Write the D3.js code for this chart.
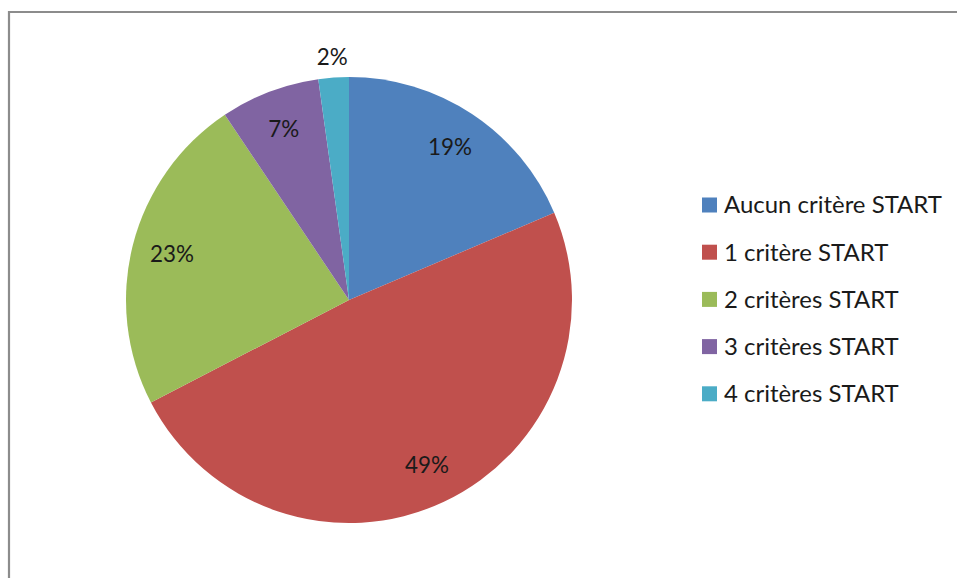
<!DOCTYPE html>
<html><head><meta charset="utf-8">
<script src="https://cdn.jsdelivr.net/npm/d3@7"></script>
<style>html,body{margin:0;padding:0;background:#fff;}svg{display:block;}</style>
</head><body>
<svg id="chart" width="957" height="578"></svg>
<script>
const categories = ["Aucun critère START", "1 critère START", "2 critères START", "3 critères START", "4 critères START"];
const values = [18.6, 48.8, 23.2, 7.2, 2.2];
const colors = ["#4F81BD", "#C0504D", "#9BBB59", "#8064A2", "#4BACC6"];

const svg = d3.select("#chart");
const font = "Lato, 'Open Sans', sans-serif";

// frame
svg.append("path").attr("d", "M9,580 V12 H957").attr("fill", "none")
  .attr("stroke", "#8c8c8c").attr("stroke-width", 2.2);

const cx = 349, cy = 300, R = 223;
const data = categories.map((c, i) => ({cat: c, value: values[i], color: colors[i]}));
const pie = d3.pie().value(d => d.value).sort(null);
const arcs = pie(data);
const arc = d3.arc().innerRadius(0).outerRadius(R);
const g = svg.append("g").attr("transform", `translate(${cx},${cy})`);
g.selectAll("path.slice").data(arcs).join("path").attr("class", "slice")
  .attr("d", arc).attr("fill", d => d.data.color);

const inner = d3.arc().innerRadius(R * 0.82).outerRadius(R * 0.82);
const outer = d3.arc().innerRadius(R * 1.09).outerRadius(R * 1.09);
const labels = g.selectAll("text.lbl").data(arcs).join("text").attr("class", "lbl")
  .attr("transform", d => {
    const p = (d.endAngle - d.startAngle) < 0.2 ? outer.centroid(d) : inner.centroid(d);
    return `translate(${p[0]},${p[1]})`;
  })
  .attr("text-anchor", "middle").attr("dy", "0.35em")
  .attr("font-family", font).attr("font-size", 21).attr("fill", "#1a1a1a")
  .text(d => Math.round(d.value) + "%");
// fit label size to reference width (~44px for "19%")
{
  const w = labels.nodes()[0].getComputedTextLength();
  labels.attr("font-size", 21 * 44 / w);
}

// legend
const lg = svg.append("g").attr("transform", "translate(702,205)");
const rows = lg.selectAll("g").data(data).join("g")
  .attr("transform", (d, i) => `translate(0,${i * 47.2})`);
rows.append("rect").attr("x", 0).attr("y", -7.5).attr("width", 15).attr("height", 15)
  .attr("fill", d => d.color);
const lt = rows.append("text").attr("x", 22).attr("dy", "0.35em")
  .attr("font-family", font).attr("font-size", 20).attr("fill", "#1a1a1a")
  .text(d => d.cat);
{
  const w = lt.nodes()[0].getComputedTextLength();
  lt.attr("font-size", 20 * 218 / w);
}
</script>
</body></html>
